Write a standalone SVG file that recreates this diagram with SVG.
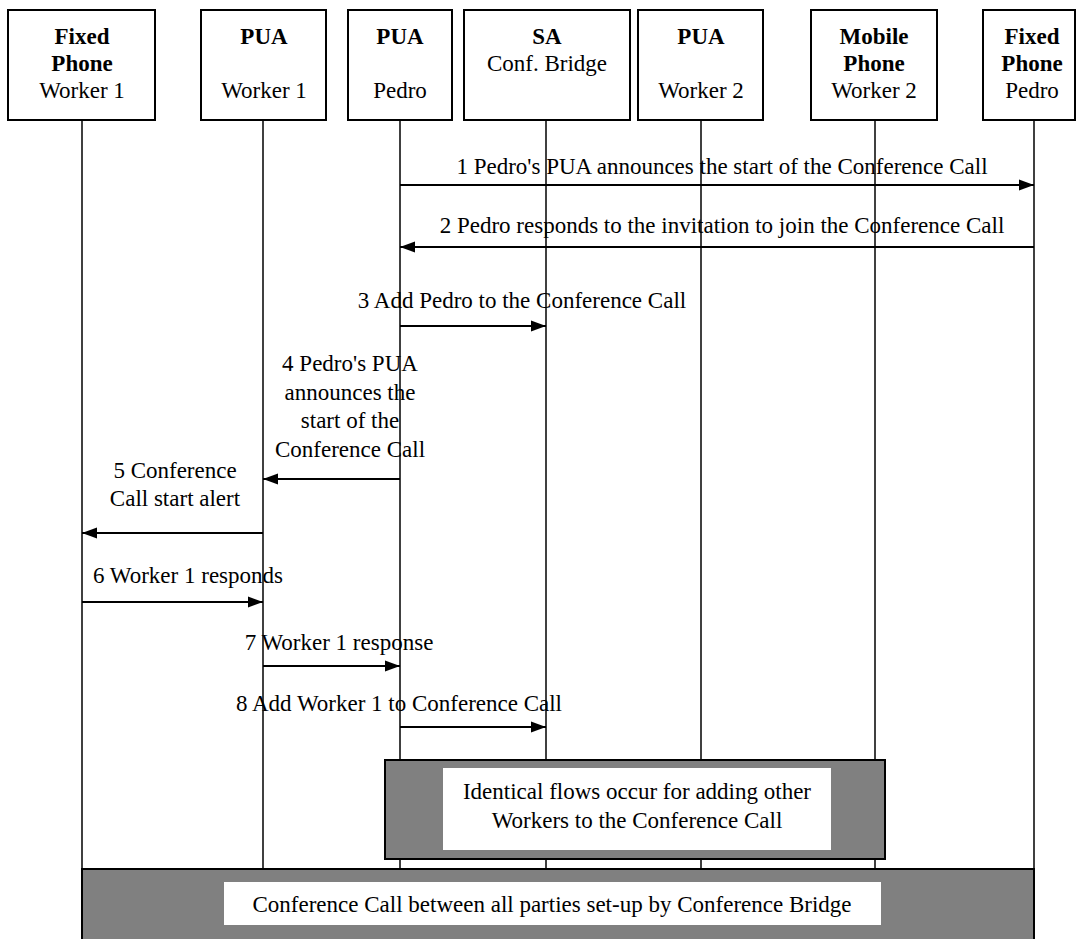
<svg xmlns="http://www.w3.org/2000/svg" width="1077" height="939" viewBox="0 0 1077 939" font-family="'Liberation Serif', 'DejaVu Serif', serif">
<style>
text{font-family:'Liberation Serif','DejaVu Serif',serif;font-size:23px;fill:#000;text-anchor:middle}
.b{font-weight:bold}
.hdr{fill:#fff;stroke:#000;stroke-width:2}
.life{stroke:#000;stroke-width:1.5}
.msg{stroke:#000;stroke-width:2;fill:none;marker-end:url(#ah)}
.gray{fill:#808080;stroke:#000;stroke-width:2}
.white{fill:#fff}
</style>
<defs>
<marker id="ah" markerUnits="userSpaceOnUse" markerWidth="16" markerHeight="12" refX="15" refY="6" orient="auto"><path d="M0,0.5 L15,6 L0,11.5 Z" fill="#000"/></marker>
</defs>
<rect width="1077" height="939" fill="#fff"/>
<g id="lifelines">
<line class="life" x1="82" y1="120" x2="82" y2="869"/>
<line class="life" x1="263" y1="120" x2="263" y2="869"/>
<line class="life" x1="400" y1="120" x2="400" y2="869"/>
<line class="life" x1="546" y1="120" x2="546" y2="869"/>
<line class="life" x1="701" y1="120" x2="701" y2="869"/>
<line class="life" x1="875" y1="120" x2="875" y2="869"/>
<line class="life" x1="1034" y1="120" x2="1034" y2="869"/>
</g>
<g id="n-fixed-w1"><rect class="hdr" x="8" y="10" width="147" height="110"/><text class="b" x="82" y="44">Fixed</text><text class="b" x="82" y="71">Phone</text><text x="82" y="98">Worker 1</text></g>
<g id="n-pua-w1"><rect class="hdr" x="201" y="10" width="125" height="110"/><text class="b" x="264" y="44">PUA</text><text x="264" y="98">Worker 1</text></g>
<g id="n-pua-pedro"><rect class="hdr" x="348" y="10" width="104" height="110"/><text class="b" x="400" y="44">PUA</text><text x="400" y="98">Pedro</text></g>
<g id="n-sa"><rect class="hdr" x="464" y="10" width="166" height="110"/><text class="b" x="547" y="44">SA</text><text x="547" y="71">Conf. Bridge</text></g>
<g id="n-pua-w2"><rect class="hdr" x="638" y="10" width="125" height="110"/><text class="b" x="701" y="44">PUA</text><text x="701" y="98">Worker 2</text></g>
<g id="n-mobile-w2"><rect class="hdr" x="811" y="10" width="126" height="110"/><text class="b" x="874" y="44">Mobile</text><text class="b" x="874" y="71">Phone</text><text x="874" y="98">Worker 2</text></g>
<g id="n-fixed-pedro"><rect class="hdr" x="983" y="10" width="92" height="110"/><text class="b" x="1032" y="44">Fixed</text><text class="b" x="1032" y="71">Phone</text><text x="1032" y="98">Pedro</text></g>
<g id="connectors">
<line class="msg" x1="400" y1="185" x2="1034" y2="185"/>
<text x="722" y="174">1 Pedro's PUA announces the start of the Conference Call</text>
<line class="msg" x1="1034" y1="247" x2="400" y2="247"/>
<text x="722" y="233">2 Pedro responds to the invitation to join the Conference Call</text>
<line class="msg" x1="400" y1="326" x2="546" y2="326"/>
<text x="522" y="308">3 Add Pedro to the Conference Call</text>
<line class="msg" x1="400" y1="479" x2="263" y2="479"/>
<text x="350" y="371">4 Pedro's PUA</text>
<text x="350" y="400">announces the</text>
<text x="350" y="428">start of the</text>
<text x="350" y="457">Conference Call</text>
<line class="msg" x1="263" y1="533" x2="82" y2="533"/>
<text x="175" y="478">5 Conference</text>
<text x="175" y="506">Call start alert</text>
<line class="msg" x1="82" y1="602" x2="263" y2="602"/>
<text x="188" y="583">6 Worker 1 responds</text>
<line class="msg" x1="263" y1="666" x2="400" y2="666"/>
<text x="339" y="650">7 Worker 1 response</text>
<line class="msg" x1="400" y1="727" x2="546" y2="727"/>
<text x="399" y="711">8 Add Worker 1 to Conference Call</text>
</g>
<g id="n-identical">
<rect class="gray" x="385" y="760" width="500" height="99"/>
<rect class="white" x="443" y="768" width="388" height="82"/>
<text x="637" y="799">Identical flows occur for adding other</text>
<text x="637" y="828">Workers to the Conference Call</text>
</g>
<g id="n-conference">
<rect class="gray" x="82" y="869" width="952" height="80"/>
<rect class="white" x="224" y="882" width="657" height="43"/>
<text x="552" y="912">Conference Call between all parties set-up by Conference Bridge</text>
</g>
</svg>
